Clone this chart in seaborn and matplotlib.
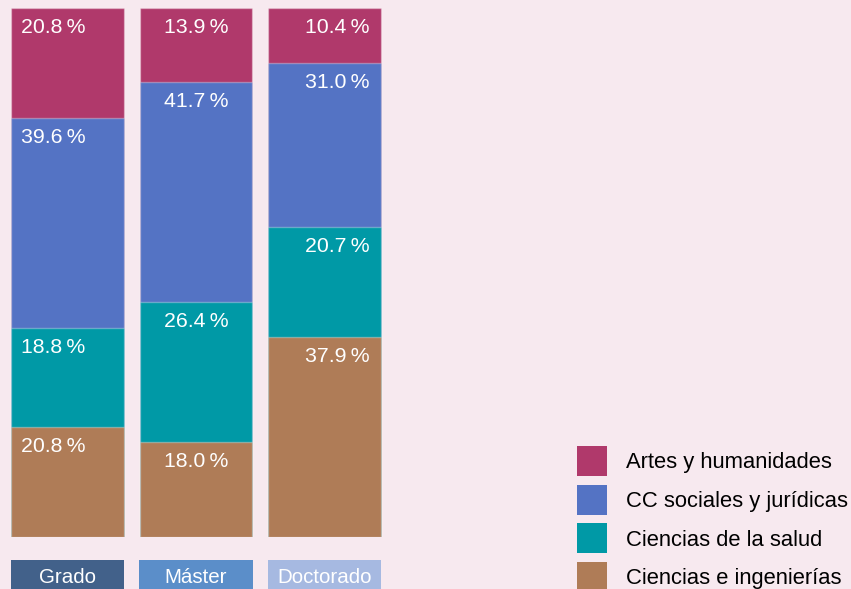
import matplotlib
matplotlib.use("Agg")
import matplotlib.pyplot as plt
import seaborn as sns
import pandas as pd
from matplotlib.patches import Patch

levels = ["Grado", "Máster", "Doctorado"]
fields = ["Artes y humanidades", "CC sociales y jurídicas",
          "Ciencias de la salud", "Ciencias e ingenierías"]
artes = [20.8, 13.9, 10.4]
sociales = [39.6, 41.7, 31.0]
salud = [18.8, 26.4, 20.7]
ingenierias = [20.8, 18.0, 37.9]

field_colors = ["#b0396b", "#5473c4", "#0099a6", "#af7c57"]
level_colors = ["#42618a", "#5b8ec9", "#a6b9e1"]
bg = "#f7e9ef"

plt.rcParams["font.family"] = ["Liberation Sans", "DejaVu Sans"]

values = [artes, sociales, salud, ingenierias]  # top to bottom
fig = plt.figure(figsize=(8.51, 5.89), dpi=100, facecolor=bg)
W, H = 851, 589
ax = fig.add_axes([3.25 / W, 1 - 537 / H, 385.5 / W, 529 / H])
ax.set_facecolor(bg)
bw = 0.879

# stacked: draw cumulative from top segment down
for k in range(4):
    cum = [sum(values[j][i] for j in range(k, 4)) for i in range(3)]
    df = pd.DataFrame({"level": levels, "value": cum})
    sns.barplot(data=df, x="level", y="value", order=levels, color=field_colors[k],
                width=bw, ax=ax, saturation=1, edgecolor=(1, 1, 1, 0.3), linewidth=1)

ax.set_xlim(-0.5, 2.5)
ax.set_ylim(0, 100)
ax.axis("off")

aligns = ["left", "center", "right"]
offs = [10, 0, -11]
for k in range(4):
    for i in range(3):
        top = sum(values[j][i] for j in range(k, 4))
        if aligns[i] == "left":
            xd = i - bw / 2
        elif aligns[i] == "right":
            xd = i + bw / 2
        else:
            xd = i
        ax.annotate(f"{values[k][i]:.1f}\u2009%", xy=(xd, top),
                    xytext=(offs[i], -10), textcoords="offset pixels",
                    ha=aligns[i], va="top", color="white", fontsize=15.3)

# category boxes
ax2 = fig.add_axes([3.25 / W, 1 - 592 / H, 385.5 / W, 32 / H])
dfl = pd.DataFrame({"level": levels, "v": [1, 1, 1]})
sns.barplot(data=dfl, x="level", y="v", hue="level", order=levels, hue_order=levels,
            palette=level_colors, width=bw + 0.008, ax=ax2, saturation=1, legend=False)
ax2.set_xlim(-0.5, 2.5)
ax2.set_ylim(0, 1)
ax2.axis("off")
for i, lv in enumerate(levels):
    ax2.text(i, 0.28, lv, ha="center", va="baseline", color="white", fontsize=14.8)

handles = [Patch(facecolor=c, edgecolor="none") for c in field_colors]
fs = 15.8
pxfs = fs * 100 / 72
hh = (30 / pxfs - 0.245) / 0.65
fig.legend(handles, fields, loc="upper left",
           bbox_to_anchor=(577 / W, 1 - 446 / H), frameon=False, fontsize=fs,
           borderpad=0, borderaxespad=0, handlelength=30 / pxfs, handleheight=hh,
           handletextpad=19 / pxfs, labelspacing=8.7 / pxfs)

fig.savefig("out.png", dpi=100, facecolor=bg)
